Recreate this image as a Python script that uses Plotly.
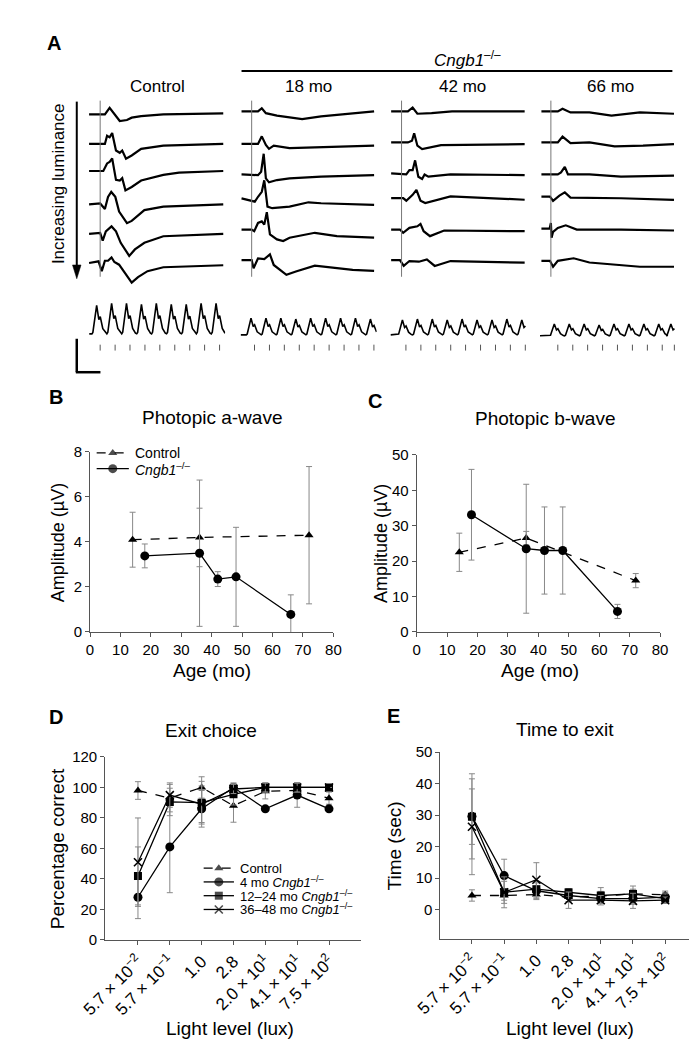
import plotly.graph_objects as go

W, H = 697, 1061
FONT = "Arial, 'Liberation Sans', sans-serif"


def dx(a, b):
    return [a / W, b / W]


def dy(top, bot):
    return [1 - bot / H, 1 - top / H]


def px(x):
    return x / W


def py(y):
    return 1 - y / H


# ---------------- Panel B / C data ----------------
age_ctrl = [14, 36, 72]
age_ko = [18, 36, 42, 48, 66]
awave_ctrl = [4.1, 4.2, 4.3]
awave_ctrl_err = [1.22, 1.3, 3.05]
awave_ko = [3.38, 3.5, 2.35, 2.45, 0.78]
awave_ko_err = [0.53, 3.25, 0.33, 2.2, 0.87]
bwave_ctrl = [22.5, 26.5, 14.5]
bwave_ctrl_err = [5.4, 1.9, 2.0]
bwave_ko = [33.1, 23.5, 23.0, 23.0, 5.8]
bwave_ko_err = [12.8, 18.2, 12.3, 12.3, 2.0]

# ---------------- Panel D / E data ----------------
light_labels = ["5.7 × 10<sup>−2</sup>", "5.7 × 10<sup>−1</sup>", "1.0", "2.8",
                "2.0 × 10<sup>1</sup>", "4.1 × 10<sup>1</sup>", "7.5 × 10<sup>2</sup>"]
exit_ctrl = [98, 93, 100, 88, 97.5, 98, 93]
exit_ctrl_err = [5.8, 9, 7, 10.8, 5, 5, 4]
exit_4mo = [28, 61, 86, 100, 86, 95, 86]
exit_4mo_err = [14, 30, 12, 3, 0, 8, 0]
exit_12mo = [42, 90.5, 90, 95.5, 100, 100, 100]
exit_12mo_err = [19, 9, 14, 7, 3, 3, 0]
exit_36mo = [51, 95, 89, 99, 100, 100, 100]
exit_36mo_err = [29, 8, 12, 3, 3, 3, 0]

time_ctrl = [4.5, 4.5, 4.8, 4.0, 4.3, 5.0, 4.7]
time_ctrl_err = [1.8, 1.5, 1.6, 1.5, 1.5, 1.5, 1.2]
time_4mo = [29.6, 10.8, 6.0, 4.5, 3.5, 3.5, 4.0]
time_4mo_err = [13.5, 5.2, 2.5, 2.0, 1.5, 1.8, 1.5]
time_12mo = [29.5, 5.5, 6.5, 5.5, 4.5, 5.0, 3.5]
time_12mo_err = [8.8, 3.5, 2.5, 1.2, 2.5, 2.5, 1.5]
time_36mo = [26.3, 5.5, 9.5, 3.0, 3.0, 2.8, 3.0]
time_36mo_err = [15.2, 4.9, 5.4, 2.6, 1.5, 2.4, 1.0]

# ---------------- Panel A data (ERG waveforms) ----------------
col_names = ["Control", "18 mo", "42 mo", "66 mo"]
erg_t = {
    "Control": [
        [-11.7, 5, 10, 15, 20.7, 28.3, 33.3, 43.3, 66.7, 130],
        [-11.7, 5, 7.3, 10, 12.7, 16.7, 20.7, 23.3, 27.3, 33.3, 43.3, 66.7, 130],
        [-11.7, 3.3, 7.3, 10, 12.7, 16.7, 20.7, 23.3, 26.7, 33.3, 43.3, 66.7, 83.3, 130],
        [-11.7, 0, 5, 8.3, 11.7, 16, 20, 28.3, 33.3, 46.7, 66.7, 130],
        [-11.7, 0, 2.7, 6, 12, 16.7, 21.7, 30.7, 36.7, 46.7, 66.7, 130],
        [-11.7, -1.7, 1.7, 5, 8.3, 12, 15, 20, 33.3, 40, 50, 66.7, 130],
    ],
    "18 mo": [
        [-10.7, 6.7, 10.7, 15, 26.7, 53.3, 73.3, 106.7, 129.3],
        [-10.7, 6.7, 10.7, 15, 18.3, 23.3, 40, 73.3, 129.3],
        [-10.7, 6.7, 10, 12.7, 15, 18.3, 26.7, 40, 73.3, 129.3],
        [-10.7, 3.3, 6.7, 10.7, 13.3, 16.7, 21.7, 40, 60, 73.3, 129.3],
        [-10.7, 0, 2.7, 6.7, 10.7, 13.3, 16, 19.3, 26.7, 33.3, 40, 66.7, 90, 129.3],
        [-10.7, 0, 2, 6.7, 13.3, 19.3, 23.3, 36.7, 46.7, 66.7, 106.7, 129.3],
    ],
    "42 mo": [
        [-11, 6.7, 11.7, 16.7, 31.7, 53.3, 130],
        [-11, 6.7, 11, 13.3, 16.7, 21.7, 41.7, 130],
        [-11, 5, 8.3, 11.7, 14.3, 17.7, 21.7, 24.3, 28.3, 51.7, 130],
        [-11, 1.7, 5, 11.7, 15.7, 20, 25, 51.7, 130],
        [-11, -1.7, 1.7, 8.3, 16.7, 20, 23.3, 30, 45, 130],
        [-11, -1.7, 2.3, 8.3, 18.3, 26.7, 35, 51.7, 130],
    ],
    "66 mo": [
        [-10, 7.3, 12.3, 20.7, 40.7, 64, 94, 130],
        [-10, 7.3, 12.3, 20.7, 40.7, 67.3, 97.3, 130],
        [-10, 7.3, 10.7, 14.7, 18, 40.7, 74, 130],
        [-10, -1, 2.3, 9, 14.7, 20.7, 74, 130],
        [-10, -1.3, 0, 0.7, 2.3, 7.3, 15.7, 27.3, 74, 130],
        [-10, -1, 2.3, 7.3, 24, 40.7, 94, 130],
    ],
}
erg_v = {
    "Control": [
        [0, 0, 6.7, 0, -6.7, -5.7, -3.3, -1.7, 0, 1],
        [0, 0, 8.3, 6.7, 11, -6.7, -9, -6.7, -15, -11.7, -5, -1.7, 0],
        [0, 0, 7.7, 9.3, 12.7, -9, -9.7, -7.3, -19.7, -16.3, -9.7, -4, -1.7, 0],
        [0, 1, -4.7, 7.7, 12.7, 7.7, -7.3, -19, -16.7, -5.7, -2.3, 0],
        [0, 1, -6.7, 2.7, 7.7, 2.7, -9, -22.3, -15.7, -9, -2.3, 0],
        [0, 1.7, -8.3, 2.3, 2.3, 5.7, 1, -1.7, -20, -14.3, -8.3, -4.3, -2.3],
    ],
    "18 mo": [
        [0, 0, 3.3, -1.7, -4.3, -7.7, -5, -1.7, 0],
        [0, 0, 7.7, -1, -5, -1.7, -4.3, -3.3, -1.7],
        [0, -0.7, 2.7, 21, -4, -8, -5.7, -4, -2.3, -0.7],
        [0.7, -2.7, 2.3, 7.3, 19, -7.7, -9.3, -7.7, -3.3, -4.3, -6],
        [0, 0, -1.7, 6.7, 8.3, 5, 17.7, -5, -10, -11.7, -8.3, -3.3, -6.7, -8.3],
        [0, 0, -8.3, 1.7, 1, 5.7, -5, -15, -11.7, -5.7, -10, -11],
    ],
    "42 mo": [
        [0, 0, 4, -2.3, -1.7, 0, 0],
        [0, 0, 1.7, 9.3, -3.3, -6.7, -2.7, -1.7],
        [0, -1, 3.3, 3.3, 13.3, -3.3, -5.7, -1, -3.3, -1, -1.7],
        [0, 0, -2.7, 3.3, 8.3, -2.7, -5, 1.7, -1.7],
        [0, 0, -3.3, 1.7, 3.3, 5.7, -1.7, -6.7, -1, -1.7],
        [1, 1, -5, 0, -0.7, 1.7, -5, 0, -1.7],
    ],
    "66 mo": [
        [0, 0, 2.7, -1, -1, -4.3, -1, -2.3],
        [0, 0, 6, -0.7, 0, -4, -3.3, -1.7],
        [0, 0, 2, 7.7, 0, 0, -2.3, -1.3],
        [1, 1, -3.3, 2, 5.3, 0, -0.7, -2.3],
        [1, 1, 6.7, -8.3, -2.3, 1.7, 4.3, 0, 0, -1],
        [1.7, 1.7, -4.3, 1.7, 4.3, 0, -4.3, -4.3],
    ],
}
# flicker responses: flash times and peak amplitudes of each cycle
flicker_flash_t = {
    "Control": [0, 15.8, 31.5, 47.3, 63, 78.8, 94.6, 110.3, 126.1],
    "18 mo": [3, 18.8, 34.5, 50.3, 66, 81.8, 97.6, 113.3, 129.1],
    "42 mo": [4.6, 20.4, 36.1, 51.9, 67.6, 83.4, 99.2, 114.9, 130.7],
    "66 mo": [7.3, 23.1, 38.8, 54.6, 70.3, 86.1, 101.9, 117.6, 130.4],
}
flicker_peak = {
    "Control": [29, 31, 31, 30, 31, 30, 30, 31, 31],
    "18 mo": [17, 17, 17, 16, 17, 17, 17, 17, 16],
    "42 mo": [15, 16, 16, 15, 16, 15, 15, 16, 15],
    "66 mo": [12, 12, 12, 11, 12, 12, 12, 12, 12],
}

# ---------------- layout constants (pixel positions) ----------------
col_vline_px = [66.7, 226.7, 385, 542.7]
row_base_px = {
    "Control": [99, 129, 156.5, 190.5, 220.5, 250],
    "18 mo": [96, 129, 160, 185, 216, 247],
    "42 mo": [96, 127.5, 159, 184, 216, 248],
    "66 mo": [96, 127.5, 160, 183.5, 216, 249.5],
}
flicker_base_px = [322, 323, 323, 324]
A_TOP, A_BOT = 60, 362
T_MIN, T_MAX = -12, 132

fig = go.Figure()
layout = dict(
    width=W, height=H, margin=dict(l=0, r=0, t=0, b=0),
    paper_bgcolor="white", plot_bgcolor="rgba(0,0,0,0)",
    font=dict(family=FONT, color="black", size=15),
    showlegend=False,
)


def axstyle(**kw):
    d = dict(showline=True, linecolor="#555", linewidth=1, ticks="outside", ticklen=4,
             tickcolor="#555", tickwidth=1, showgrid=False, zeroline=False,
             tickfont=dict(size=15, color="black", family=FONT), fixedrange=True)
    d.update(kw)
    return d


# B
layout["xaxis"] = axstyle(domain=dx(56, 313), range=[0, 80], dtick=10, anchor="y")
layout["yaxis"] = axstyle(domain=dy(442, 625), range=[0, 8], dtick=2, anchor="x")
# C
layout["xaxis2"] = axstyle(domain=dx(401, 658), range=[0, 80], dtick=10, anchor="y2")
layout["yaxis2"] = axstyle(domain=dy(445, 625), range=[0, 50], dtick=10, anchor="x2")
# D
cat = list(range(7))
rot_font = dict(size=17, color="black", family=FONT)
layout["xaxis3"] = axstyle(domain=dx(72, 342), range=[-1.03, 7.0], tickvals=cat, ticktext=light_labels,
                           tickangle=-45, anchor="y3", tickfont=rot_font)
layout["yaxis3"] = axstyle(domain=dy(752, 938), range=[0, 120], dtick=20, anchor="x3")
# E
layout["xaxis4"] = axstyle(domain=dx(426, 693), range=[-0.98, 6.87], tickvals=cat, ticktext=light_labels,
                           tickangle=-45, anchor="y4", tickfont=rot_font)
layout["yaxis4"] = axstyle(domain=dy(747, 937), range=[-9.3, 50], tickvals=[0, 10, 20, 30, 40, 50], anchor="x4")

# A columns
for i, name in enumerate(col_names):
    xa = f"xaxis{5 + i}"
    ya = f"yaxis{5 + i}"
    x0 = col_vline_px[i] + T_MIN
    layout[xa] = dict(domain=dx(x0, x0 + (T_MAX - T_MIN)), range=[T_MIN, T_MAX], visible=False,
                      anchor=f"y{5 + i}", fixedrange=True)
    layout[ya] = dict(domain=dy(A_TOP, A_BOT), range=[-A_BOT, -A_TOP], visible=False,
                      anchor=f"x{5 + i}", fixedrange=True)
# overlay in pixel units for legend keys
layout["xaxis9"] = dict(domain=[0, 1], range=[0, W], visible=False, anchor="y9", fixedrange=True)
layout["yaxis9"] = dict(domain=[0, 1], range=[H, 0], visible=False, anchor="x9", fixedrange=True)

ERR = "#888"


def errb(arr):
    return dict(type="data", array=arr, color=ERR, thickness=1, width=3)


LW = 1.3
# ---- B ----
fig.add_trace(go.Scatter(x=age_ctrl, y=awave_ctrl, error_y=errb(awave_ctrl_err), mode="lines+markers",
                         line=dict(color="black", width=LW, dash="dash"),
                         marker=dict(symbol="triangle-up", size=8, color="black"),
                         name="Control", xaxis="x", yaxis="y"))
fig.add_trace(go.Scatter(x=age_ko, y=awave_ko, error_y=errb(awave_ko_err), mode="lines+markers",
                         line=dict(color="black", width=LW),
                         marker=dict(symbol="circle", size=9, color="black"),
                         name="Cngb1-/-", xaxis="x", yaxis="y"))
# ---- C ----
fig.add_trace(go.Scatter(x=age_ctrl, y=bwave_ctrl, error_y=errb(bwave_ctrl_err), mode="lines+markers",
                         line=dict(color="black", width=LW, dash="dash"),
                         marker=dict(symbol="triangle-up", size=8, color="black"),
                         xaxis="x2", yaxis="y2"))
fig.add_trace(go.Scatter(x=age_ko, y=bwave_ko, error_y=errb(bwave_ko_err), mode="lines+markers",
                         line=dict(color="black", width=LW),
                         marker=dict(symbol="circle", size=9, color="black"),
                         xaxis="x2", yaxis="y2"))

# ---- D / E ----
series = [
    ("Control", exit_ctrl, exit_ctrl_err, time_ctrl, time_ctrl_err, "triangle-up", 8, "dash"),
    ("4 mo <i>Cngb1</i><sup>–/–</sup>", exit_4mo, exit_4mo_err, time_4mo, time_4mo_err, "circle", 9, "solid"),
    ("12–24 mo <i>Cngb1</i><sup>–/–</sup>", exit_12mo, exit_12mo_err, time_12mo, time_12mo_err, "square", 8, "solid"),
    ("36–48 mo <i>Cngb1</i><sup>–/–</sup>", exit_36mo, exit_36mo_err, time_36mo, time_36mo_err, "x-thin", 8, "solid"),
]


def mkr(sym, sz):
    return dict(symbol=sym, size=sz, color="black", line=dict(color="black", width=1.6 if sym == "x-thin" else 0))


for name, ev, ee, tv, te, sym, sz, dash in series:
    fig.add_trace(go.Scatter(x=cat, y=ev, error_y=errb(ee), mode="lines+markers",
                             line=dict(color="black", width=LW, dash=dash), marker=mkr(sym, sz),
                             name=name, xaxis="x3", yaxis="y3"))
    fig.add_trace(go.Scatter(x=cat, y=tv, error_y=errb(te), mode="lines+markers",
                             line=dict(color="black", width=LW, dash=dash), marker=mkr(sym, sz),
                             name=name, xaxis="x4", yaxis="y4"))

# ---- A ----
shapes = []
for i, name in enumerate(col_names):
    xr, yr = f"x{5 + i}", f"y{5 + i}"
    for r in range(6):
        base = row_base_px[name][r]
        fig.add_trace(go.Scatter(x=erg_t[name][r], y=[-base + v for v in erg_v[name][r]], mode="lines",
                                 line=dict(color="black", width=2.2), hoverinfo="skip",
                                 xaxis=xr, yaxis=yr))
    # flash marker line
    shapes.append(dict(type="line", xref=xr, yref=yr, x0=0, x1=0, y0=-264, y1=-85,
                       line=dict(color="#777", width=1)))
    # flicker
    fb = flicker_base_px[i]
    xs, ys = [T_MIN + 0.5], [-fb]
    for tf, amp in zip(flicker_flash_t[name], flicker_peak[name]):
        tp = tf - 3.7
        for dt, frac in [(-5, 0.0), (-4, 0.05), (0, 1.0), (2.3, 0.5), (3.8, 0.6), (6.5, 0.18), (9.5, 0.02)]:
            t = tp + dt
            if T_MIN < t < T_MAX:
                xs.append(t)
                ys.append(-fb + frac * amp)
    fig.add_trace(go.Scatter(x=xs, y=ys, mode="lines", line=dict(color="black", width=1.6),
                             hoverinfo="skip", xaxis=xr, yaxis=yr))
    tx, ty = [], []
    for tf in flicker_flash_t[name]:
        tx += [tf, tf, None]
        ty += [-333, -339, None]
    fig.add_trace(go.Scatter(x=tx, y=ty, mode="lines", line=dict(color="#555", width=1),
                             hoverinfo="skip", xaxis=xr, yaxis=yr))

# ---- legend keys (drawn manually, pixel overlay) ----
legend_B = [("Control", "triangle-up", 8, "dash", 443),
            ("<i>Cngb1</i><sup>–/–</sup>", "circle", 9, "solid", 459)]
legend_D = [(s[0], s[5], s[6], s[7], yy) for s, yy in zip(series, [865, 879, 893, 907])]
ann = []


def text(x, y, s, size=15, bold=False, angle=0, xanchor="center"):
    ann.append(dict(xref="paper", yref="paper", x=px(x), y=py(y), text=f"<b>{s}</b>" if bold else s,
                    showarrow=False, font=dict(size=size, family=FONT, color="black"),
                    textangle=angle, xanchor=xanchor, yanchor="middle"))


for items, x0, x1, xt, fs in [(legend_B, 63, 97, 101, 14), (legend_D, 176, 208, 212, 13)]:
    for label, sym, sz, dash, yy in items:
        fig.add_trace(go.Scatter(x=[x0, (x0 + x1) / 2, x1], y=[yy, yy, yy], mode="lines+markers",
                                 line=dict(color="black", width=LW, dash="dash" if dash == "dash" else "solid"),
                                 marker=dict(symbol=sym, size=[0, sz, 0], color="black",
                                             line=dict(color="black", width=1.6 if sym == "x-thin" else 0)),
                                 hoverinfo="skip", xaxis="x9", yaxis="y9"))
        text(xt, yy, label, fs, xanchor="left")

# header line over Cngb1 columns, scale bar, luminance arrow
shapes.append(dict(type="line", xref="paper", yref="paper", x0=px(216), x1=px(671), y0=py(55), y1=py(55),
                   line=dict(color="black", width=2)))
shapes.append(dict(type="line", xref="paper", yref="paper", x0=px(42), x1=px(42), y0=py(327), y1=py(361),
                   line=dict(color="black", width=2.5)))
shapes.append(dict(type="line", xref="paper", yref="paper", x0=px(41), x1=px(67), y0=py(361), y1=py(361),
                   line=dict(color="black", width=2.5)))
shapes.append(dict(type="line", xref="x9", yref="y9", x0=42, x1=42, y0=86, y1=254,
                   line=dict(color="black", width=2)))
shapes.append(dict(type="path", xref="x9", yref="y9", path="M 37.5 252 L 46.5 252 L 42 266 Z",
                   fillcolor="black", line=dict(color="black", width=0.5)))
layout["shapes"] = shapes

text(18, 26, "A", 20, True)
text(455, 43, "<i>Cngb1</i><sup>–/–</sup>", 17)
text(127, 71, "Control", 17)
text(287, 71, "18 mo", 17)
text(449, 71, "42 mo", 17)
text(606, 71, "66 mo", 17)
text(22, 169, "Increasing luminance", 17, angle=-90)

text(20, 386, "B", 20, True)
text(357, 390, "C", 20, True)
text(20, 711, "D", 20, True)
text(377, 710, "E", 20, True)
text(185, 407, "Photopic a-wave", 19)
text(537, 408, "Photopic b-wave", 19)
text(184, 725, "Exit choice", 19)
text(558, 724, "Time to exit", 19)
text(23, 534, "Amplitude (µV)", 18, angle=-90)
text(364, 535, "Amplitude (µV)", 18, angle=-90)
text(185, 664, "Age (mo)", 19)
text(531, 664, "Age (mo)", 19)
text(22, 845, "Percentage correct", 19, angle=-90)
text(378, 842, "Time (sec)", 19, angle=-90)
text(204, 1028, "Light level (lux)", 19)
text(563, 1028, "Light level (lux)", 19)
layout["annotations"] = ann

fig.update_layout(**layout)
fig.write_html("out.html")
